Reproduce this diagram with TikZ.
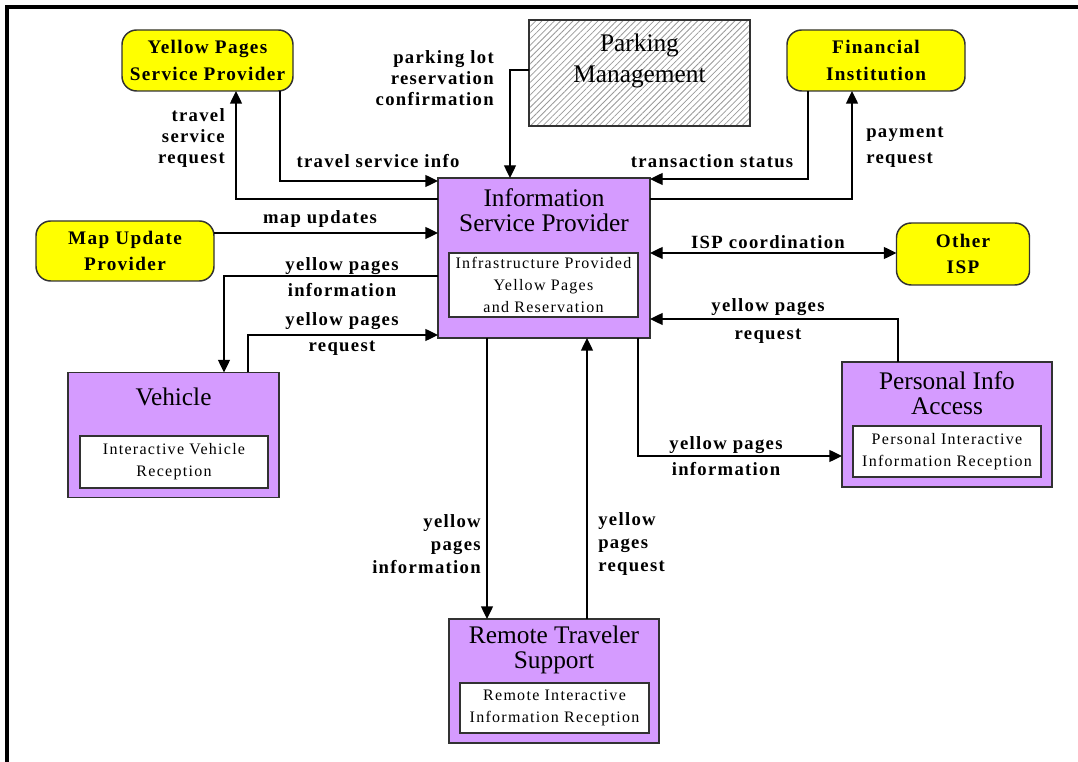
\documentclass[tikz,border=0pt]{standalone}
\usepackage{fontspec}
\setmainfont{Liberation Serif}
\newfontfamily\lblfam{Liberation Serif}[LetterSpace=7]
\newfontfamily\innerfam{Liberation Serif}[LetterSpace=8]
\usetikzlibrary{arrows.meta,patterns.meta}
\definecolor{ypfill}{RGB}{255,255,0}
\definecolor{ppfill}{RGB}{213,155,255}
\definecolor{edge}{RGB}{50,50,50}

\begin{document}
\begin{tikzpicture}[x=0.75pt,y=-0.75pt,
  ext/.style={draw=edge, line width=1.1pt, fill=ypfill, rounded corners=11pt,
    outer sep=0pt, inner sep=0pt, align=center,
    font=\lblfam\bfseries\fontsize{14.4}{20}\selectfont},
  sub/.style={draw=edge, line width=1.1pt, fill=ppfill, outer sep=0pt, inner sep=0pt},
  subtitle/.style={align=center, inner sep=0pt, font=\fontsize{19}{19}\selectfont},
  inbox/.style={draw=edge, line width=1.1pt, fill=white, align=center, inner sep=0pt,
    font=\innerfam\fontsize{12}{16.5}\selectfont},
  flow/.style={draw=black, line width=1pt, -{Triangle[length=9.5pt,width=9pt]}},
  flowboth/.style={draw=black, line width=1pt,
    {Triangle[length=9.5pt,width=9pt]}-{Triangle[length=9.5pt,width=9pt]}},
  lbl/.style={inner sep=0pt, font=\lblfam\bfseries\fontsize{14}{15.5}\selectfont},
]
\useasboundingbox (0,0) rectangle (1078,762);

% page frame (top and left edges only)
\draw[line width=2.4pt] (7,762) -- (7,7) -- (1078,7);

% ---- terminators ----
\node[ext, minimum width=171*0.75pt, minimum height=61*0.75pt] (ypsp) at (207.5,60.5)
  {Yellow Pages\\Service Provider};
\node[ext, minimum width=178*0.75pt, minimum height=61*0.75pt] (fin) at (876,60.5)
  {Financial\\Institution};
\node[ext, minimum width=178*0.75pt, minimum height=60*0.75pt] (mup) at (125,251)
  {Map Update\\Provider};
\node[ext, minimum width=133*0.75pt, minimum height=62*0.75pt] (oisp) at (963,254)
  {Other\\ISP};

% ---- parking management (hatched) ----
\node[draw=edge, line width=1.1pt, outer sep=0pt,
  pattern={Lines[angle=45,distance=3.3pt,line width=0.6pt]}, pattern color=black!40,
  minimum width=221*0.75pt, minimum height=106*0.75pt] (park) at (639.5,73) {};
\node[subtitle, font=\fontsize{19}{23}\selectfont] (parkt) at (639.5,61) {Parking\\Management};

% ---- subsystems ----
\node[sub, minimum width=212*0.75pt, minimum height=160*0.75pt] (isp) at (544,258) {};
\node[subtitle] (ispt) at (544,210) {Information\\Service Provider};
\node[inbox, minimum width=189*0.75pt, minimum height=64*0.75pt] (ispi) at (543.5,285)
  {Infrastructure Provided\\Yellow Pages\\and Reservation};

\node[sub, minimum width=211*0.75pt, minimum height=125*0.75pt] (veh) at (173.5,435) {};
\node[subtitle] (veht) at (173.5,397) {Vehicle};
\node[inbox, minimum width=188*0.75pt, minimum height=52*0.75pt] (vehi) at (174,462)
  {Interactive Vehicle\\Reception};

\node[sub, minimum width=210*0.75pt, minimum height=125*0.75pt] (pia) at (947,424.5) {};
\node[subtitle] (piat) at (947,393) {Personal Info\\Access};
\node[inbox, minimum width=188*0.75pt, minimum height=51*0.75pt] (piai) at (947,451.5)
  {Personal Interactive\\Information Reception};

\node[sub, minimum width=210*0.75pt, minimum height=124*0.75pt] (rts) at (554,681) {};
\node[subtitle] (rtst) at (554,650) {Remote Traveler\\Support};
\node[inbox, minimum width=189*0.75pt, minimum height=50*0.75pt] (rtsi) at (554.5,708)
  {Remote Interactive\\Information Reception};

% ---- bend positions of the flows ----
\coordinate (k1) at (236,199);
\coordinate (k2) at (280,181);
\coordinate (k3) at (510,70);
\coordinate (k4) at (808,179);
\coordinate (k5) at (852,199);
\coordinate (k6) at (0,233);
\coordinate (k7) at (224,276);
\coordinate (k8) at (248,335);
\coordinate (k9) at (0,253);
\coordinate (k10) at (898,319);
\coordinate (k11) at (638,456);
\coordinate (k12) at (487,0);
\coordinate (k13) at (587,0);

% ---- flows ----
\draw[flow] (isp.west |- k1) -| (ypsp.south -| k1);
\draw[flow] (ypsp.south -| k2) |- (isp.west |- k2);
\draw[flow] (park.west |- k3) -| (isp.north -| k3);
\draw[flow] (fin.south -| k4) |- (isp.east |- k4);
\draw[flow] (isp.east |- k5) -| (fin.south -| k5);
\draw[flow] (mup.east |- k6) -- (isp.west |- k6);
\draw[flow] (isp.west |- k7) -| (veh.north -| k7);
\draw[flow] (veh.north -| k8) |- (isp.west |- k8);
\draw[flowboth] (isp.east |- k9) -- (oisp.west |- k9);
\draw[flow] (pia.north -| k10) |- (isp.east |- k10);
\draw[flow] (isp.south -| k11) |- (pia.west |- k11);
\draw[flow] (isp.south -| k12) -- (rts.north -| k12);
\draw[flow] (rts.north -| k13) -- (isp.south -| k13);

% ---- flow labels ----
\node[lbl, anchor=east, align=right] (l1) at (225,138) {travel\\service\\request};
\node[lbl] (l2) at (378,161) {travel service info};
\node[lbl, anchor=east, align=right, font=\lblfam\bfseries\fontsize{14}{15.75}\selectfont]
  (l3) at (494,78) {parking lot\\reservation\\confirmation};
\node[lbl] (l4) at (712,161) {transaction status};
\node[lbl, anchor=west, align=left, font=\lblfam\bfseries\fontsize{14}{19.5}\selectfont]
  (l5) at (866,147) {payment\\request};
\node[lbl] (l6) at (320,219) {map updates};
\node[lbl, align=center, font=\lblfam\bfseries\fontsize{14}{19.5}\selectfont]
  (l7) at (342,277) {yellow pages\\information};
\node[lbl, align=center, font=\lblfam\bfseries\fontsize{14}{19.5}\selectfont]
  (l8) at (342,334) {yellow pages\\request};
\node[lbl] (l9) at (768,242) {ISP coordination};
\node[lbl, align=center, font=\lblfam\bfseries\fontsize{14}{21}\selectfont]
  (l10) at (768,321) {yellow pages\\request};
\node[lbl, align=center, font=\lblfam\bfseries\fontsize{14}{19.5}\selectfont]
  (l11) at (726,456) {yellow pages\\information};
\node[lbl, anchor=east, align=right, font=\lblfam\bfseries\fontsize{14}{17}\selectfont]
  (l12) at (481,544) {yellow\\pages\\information};
\node[lbl, anchor=west, align=left, font=\lblfam\bfseries\fontsize{14}{17}\selectfont]
  (l13) at (598,544) {yellow\\pages\\request};

\end{tikzpicture}
\end{document}
